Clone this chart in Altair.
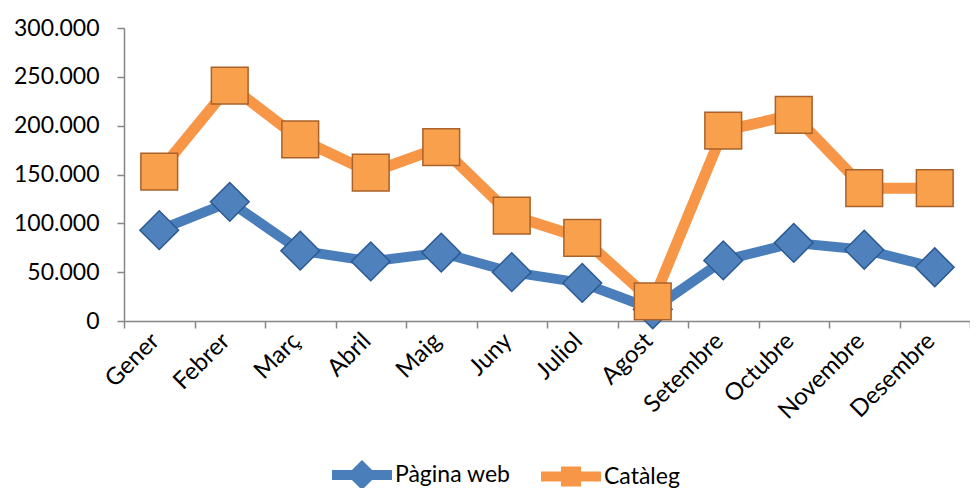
import altair as alt
import pandas as pd

months = ["Gener", "Febrer", "Març", "Abril", "Maig", "Juny", "Juliol",
          "Agost", "Setembre", "Octubre", "Novembre", "Desembre"]
series = ["Pàgina web", "Catàleg"]
web = [93000, 122000, 72000, 61000, 70000, 50000, 39000, 12000, 62000, 80000, 73000, 55000]
cataleg = [153000, 241000, 186000, 152000, 178000, 108000, 85000, 20000, 195000, 211000, 136000, 136000]
y_ticks = [0, 50000, 100000, 150000, 200000, 250000, 300000]

line_colors = ["#4a7ebb", "#f79646"]
marker_fill = ["#4f81bd", "#f9a04c"]
marker_stroke = ["#2c5a92", "#a8622a"]

rows = []
for m, v in zip(months, web):
    rows.append({"mes": m, "serie": series[0], "valor": v})
for m, v in zip(months, cataleg):
    rows.append({"mes": m, "serie": series[1], "valor": v})
df = pd.DataFrame(rows)

FONT = "Lato"

x_enc = alt.X(
    "mes:O",
    sort=months,
    scale=alt.Scale(type="band", domain=months, paddingInner=0, paddingOuter=0),
    axis=alt.Axis(
        title=None, tickBand="extent", labelAngle=315, labelAlign="right",
        labelBaseline="middle", labelPadding=9, labelOffset=-4, tickSize=7,
        domainColor="#868686", tickColor="#868686", domainWidth=1.5, tickWidth=1.5,
        labelFont=FONT, labelFontSize=24, labelColor="#000000", grid=False,
    ),
)
y_enc = alt.Y(
    "valor:Q",
    scale=alt.Scale(domain=[0, 300000], nice=False),
    axis=alt.Axis(
        title=None, values=y_ticks, tickSize=7, labelPadding=18,
        labelExpr="replace(format(datum.value, ','), ',', '.')",
        domainColor="#868686", tickColor="#868686", domainWidth=1.5, tickWidth=1.5,
        labelFont=FONT, labelFontSize=23, labelColor="#000000", grid=False,
    ),
)

color_scale = alt.Scale(domain=series, range=line_colors)

lines = alt.Chart(df).mark_line(strokeJoin="round").encode(
    x=x_enc, y=y_enc,
    color=alt.Color("serie:N", scale=color_scale, legend=None),
    strokeWidth=alt.StrokeWidth("serie:N", scale=alt.Scale(domain=series, range=[10, 11]), legend=None),
    detail="serie:N",
)

points = alt.Chart(df).mark_point(filled=True, opacity=1, strokeWidth=1.5).encode(
    x=x_enc, y=y_enc,
    shape=alt.Shape("serie:N", scale=alt.Scale(domain=series, range=["diamond", "square"]), legend=None),
    size=alt.Size("serie:N", scale=alt.Scale(domain=series, range=[1500, 1350]), legend=None),
    fill=alt.Fill("serie:N", scale=alt.Scale(domain=series, range=marker_fill), legend=None),
    stroke=alt.Stroke("serie:N", scale=alt.Scale(domain=series, range=marker_stroke), legend=None),
)

# legend-only layer: custom line+marker symbol paths
path_diamond = ("M-2,-0.33L-0.67,-0.33L0,-1L0.67,-0.33L2,-0.33L2,0.33"
                "L0.67,0.33L0,1L-0.67,0.33L-2,0.33Z")
path_square = ("M-2,-0.33L-0.67,-0.33L-0.67,-0.67L0.67,-0.67L0.67,-0.33L2,-0.33"
               "L2,0.33L0.67,0.33L0.67,0.67L-0.67,0.67L-0.67,0.33L-2,0.33Z")

leg_props = dict(
    title=None, orient="none", legendX=223, legendY=432, direction="horizontal",
    symbolSize=900, labelOffset=18, columnPadding=30, padding=0,
    labelFont=FONT, labelFontSize=23, labelColor="#000000",
    symbolStrokeWidth=0, symbolOpacity=1,
)

legend_layer = alt.Chart(df).transform_calculate(leg="datum.serie").transform_filter(
    "false"
).mark_point(filled=True, opacity=1).encode(
    x=x_enc, y=y_enc,
    shape=alt.Shape(
        "leg:N",
        scale=alt.Scale(domain=series, range=[path_diamond, path_square]),
        legend=alt.Legend(**leg_props),
    ),
    fill=alt.Fill(
        "leg:N",
        scale=alt.Scale(domain=series, range=line_colors),
        legend=alt.Legend(**leg_props),
    ),
)

chart = alt.layer(lines, points, legend_layer).resolve_scale(
    shape="independent", fill="independent"
).properties(
    width=846, height=293,
    autosize=alt.AutoSizeParams(type="none"),
    padding={"left": 116, "top": 20, "right": 0, "bottom": 167},
).configure_view(stroke=None)

chart.save("out.html", embed_options={"renderer": "svg", "actions": False})
